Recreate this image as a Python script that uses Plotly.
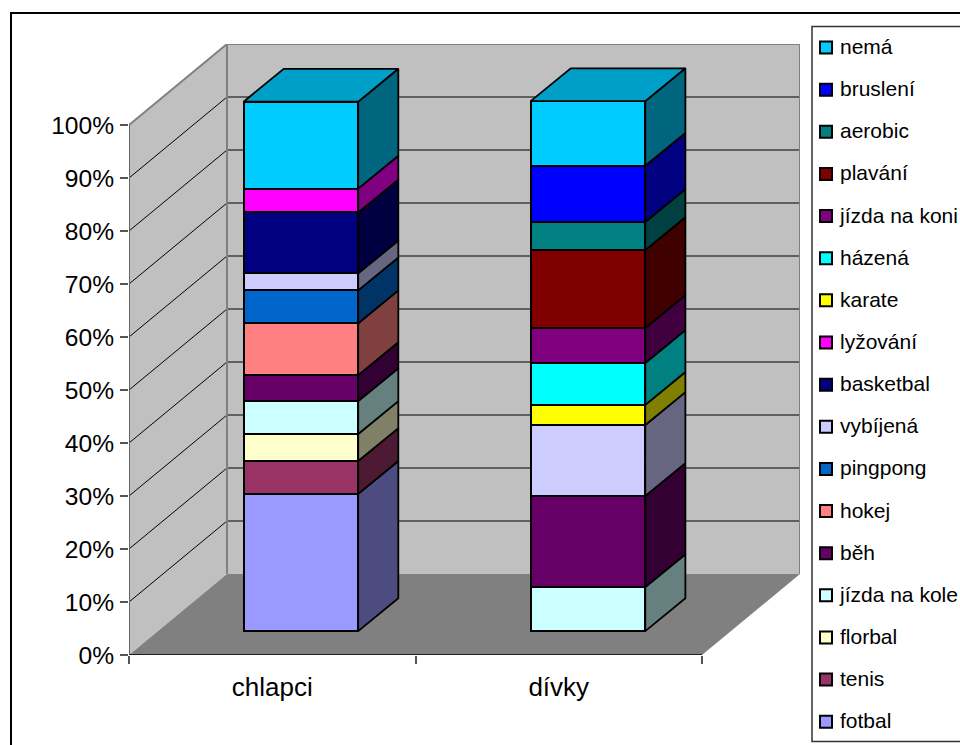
import plotly.graph_objects as go

# Survey results: share of each sport among boys and girls, in percent
categories = ["chlapci", "dívky"]
sports = ["fotbal", "tenis", "florbal", "jízda na kole", "běh", "hokej", "pingpong",
          "vybíjená", "basketbal", "lyžování", "karate", "házená", "jízda na koni",
          "plavání", "aerobic", "bruslení", "nemá"]
chlapci = [25.9, 6.2, 5.1, 6.2, 4.9, 9.8, 6.2, 3.2, 11.5, 4.5, 0, 0, 0, 0, 0, 0, 16.4]
divky = [0, 0, 0, 8.3, 17.2, 0, 0, 13.4, 0, 0, 3.8, 7.9, 6.6, 14.7, 5.3, 10.6, 12.2]
colors = ["#9999FF", "#993366", "#FFFFCC", "#CCFFFF", "#660066", "#FF8080", "#0066CC",
          "#CCCCFF", "#000080", "#FF00FF", "#FFFF00", "#00FFFF", "#800080", "#800000",
          "#008080", "#0000FF", "#00CCFF"]
y_ticks = [0, 10, 20, 30, 40, 50, 60, 70, 80, 90, 100]

W, H = 960, 745
FONT = "Liberation Sans, Arial, sans-serif"

# Oblique projection, expressed in axis units
X_MAX = 671 / 286.5
Y_MAX = 611 / 5.3
WALL_DX = X_MAX - 2
WALL_DY = Y_MAX - 100
FRONT_DX = 0.1
FRONT_DY = 4.5
BAR_W = 0.4
BAR_DX = 0.14
BAR_DY = 6.2
centers = [0.5 + FRONT_DX, 1.5 + FRONT_DX + 0.002]


def shade(hex_color, k):
    r, g, b = (int(hex_color[i:i + 2], 16) for i in (1, 3, 5))
    return f"rgb({round(r * k)},{round(g * k)},{round(b * k)})"


def px_x(px):
    return px / W


def px_y(px):
    return 1 - px / H


def poly(points):
    return "M " + " L ".join(f"{x},{y}" for x, y in points) + " Z"


fig = go.Figure()
shapes = []

# Walls and floor sit behind every bar
shapes.append(dict(type="path", xref="x", yref="y", layer="below", fillcolor="#C0C0C0",
                   line=dict(width=0),
                   path=poly([(0, 0), (WALL_DX, WALL_DY), (WALL_DX, 100 + WALL_DY), (0, 100)])))
shapes.append(dict(type="path", xref="x", yref="y", layer="below", fillcolor="#C0C0C0",
                   line=dict(width=0),
                   path=poly([(WALL_DX, WALL_DY), (X_MAX, WALL_DY), (X_MAX, 100 + WALL_DY),
                              (WALL_DX, 100 + WALL_DY)])))
shapes.append(dict(type="path", xref="x", yref="y", layer="below", fillcolor="#808080",
                   line=dict(width=0),
                   path=poly([(0, 0), (2, 0), (X_MAX, WALL_DY), (WALL_DX, WALL_DY)])))

# Gridlines run across the left wall and the back wall
for v in y_ticks[1:-1]:
    shapes.append(dict(type="path", xref="x", yref="y", layer="below",
                       line=dict(color="#000000", width=1),
                       path=f"M 0,{v} L {WALL_DX},{v + WALL_DY} L {X_MAX},{v + WALL_DY}"))

# Grey edges along the top of the walls and at their corners
shapes.append(dict(type="path", xref="x", yref="y", layer="below",
                   line=dict(color="#808080", width=2),
                   path=f"M 0,100 L {WALL_DX},{100 + WALL_DY} L {X_MAX},{100 + WALL_DY} L {X_MAX},{WALL_DY}"))
shapes.append(dict(type="line", xref="x", yref="y", layer="below", x0=WALL_DX, x1=WALL_DX,
                   y0=WALL_DY, y1=100 + WALL_DY, line=dict(color="#808080", width=2)))

# Axis lines
shapes.append(dict(type="line", xref="x", yref="y", layer="below", x0=0, x1=0, y0=0, y1=100,
                   line=dict(color="#666666", width=2)))
shapes.append(dict(type="line", xref="x", yref="y", layer="below", x0=0, x1=2, y0=0, y1=0,
                   line=dict(color="#000000", width=1.5)))

# Front faces of the stacked columns
bases = [FRONT_DY, FRONT_DY]
tops = []
for name, color, a, b in zip(sports, colors, chlapci, divky):
    vals = [a, b]
    fig.add_trace(go.Bar(
        x=[c for c, v in zip(centers, vals) if v > 0],
        y=[v for v in vals if v > 0],
        base=[s for s, v in zip(bases, vals) if v > 0],
        width=BAR_W, name=name, showlegend=False,
        marker=dict(color=color, line=dict(color="#000000", width=2)),
    ))
    # Right-hand side face of each segment
    for i, v in enumerate(vals):
        if v <= 0:
            continue
        xr = centers[i] + BAR_W / 2
        y0, y1 = bases[i], bases[i] + v
        fig.add_trace(go.Scatter(
            x=[xr, xr + BAR_DX, xr + BAR_DX, xr, xr],
            y=[y0, y0 + BAR_DY, y1 + BAR_DY, y1, y0],
            mode="lines", fill="toself", fillcolor=shade(color, 0.5),
            line=dict(color="#000000", width=1.8), showlegend=False, hoverinfo="skip",
        ))
        bases[i] = y1
        tops.append((i, color))

# Top face of each column takes the colour of its uppermost segment
for i, top in enumerate(bases):
    color = [c for j, c in tops if j == i][-1]
    xl, xr = centers[i] - BAR_W / 2, centers[i] + BAR_W / 2
    fig.add_trace(go.Scatter(
        x=[xl, xr, xr + BAR_DX, xl + BAR_DX, xl],
        y=[top, top, top + BAR_DY, top + BAR_DY, top],
        mode="lines", fill="toself", fillcolor=shade(color, 0.78),
        line=dict(color="#000000", width=1.8), showlegend=False, hoverinfo="skip",
    ))

# Legend column: last sport at the bottom, first listed entry at the top
rows = list(range(len(sports)))
fig.add_trace(go.Scatter(
    x=[14] * len(sports), y=rows, mode="markers", xaxis="x2", yaxis="y2",
    marker=dict(symbol="square", size=12, color=colors, line=dict(color="#000000", width=2)),
    showlegend=False, hoverinfo="skip",
))
fig.add_trace(go.Scatter(
    x=[28] * len(sports), y=[r - 0.03 for r in rows], mode="text", text=sports,
    textposition="middle right",
    textfont=dict(family=FONT, size=21, color="#000000"), xaxis="x2", yaxis="y2",
    showlegend=False, hoverinfo="skip", cliponaxis=False,
))

# Chart frame and legend box
shapes.append(dict(type="rect", xref="paper", yref="paper", layer="below",
                   x0=px_x(11), x1=px_x(975), y0=px_y(13), y1=px_y(760),
                   line=dict(color="#000000", width=2)))
shapes.append(dict(type="rect", xref="paper", yref="paper", layer="below",
                   x0=px_x(812), x1=px_x(975), y0=px_y(26.5), y1=px_y(741.5),
                   line=dict(color="#333333", width=1.5)))

fig.update_layout(
    width=W, height=H, margin=dict(l=0, r=0, t=0, b=0, autoexpand=False), autosize=False,
    paper_bgcolor="#FFFFFF", plot_bgcolor="rgba(0,0,0,0)", barmode="overlay",
    bargap=0, showlegend=False, shapes=shapes,
    font=dict(family=FONT, color="#000000"),
    xaxis=dict(domain=[129 / W, 800 / W], range=[0, X_MAX], showgrid=False, zeroline=False,
               showline=False, tickvals=[0.5, 1.5], ticktext=categories, ticks="",
               ticklabelstandoff=14, tickfont=dict(family=FONT, size=26),
               minor=dict(tickvals=[0, 1, 2], ticks="outside", ticklen=8, tickwidth=1.5,
                          tickcolor="#555555", showgrid=False)),
    yaxis=dict(domain=[1 - 655 / H, 1 - 44 / H], range=[0, Y_MAX], showgrid=False, zeroline=False,
               showline=False, tickvals=y_ticks, ticktext=[f"{v}%" for v in y_ticks],
               ticks="outside", ticklen=8, tickwidth=2, tickcolor="#555555",
               ticklabelstandoff=1, tickfont=dict(family=FONT, size=24.6)),
    xaxis2=dict(domain=[812 / W, 1], range=[0, 148], visible=False),
    yaxis2=dict(domain=[1 - 741.5 / H, 1 - 26.5 / H], range=[-0.47, 16.5], visible=False),
)

fig.write_html("out.html", config=dict(displayModeBar=False))
